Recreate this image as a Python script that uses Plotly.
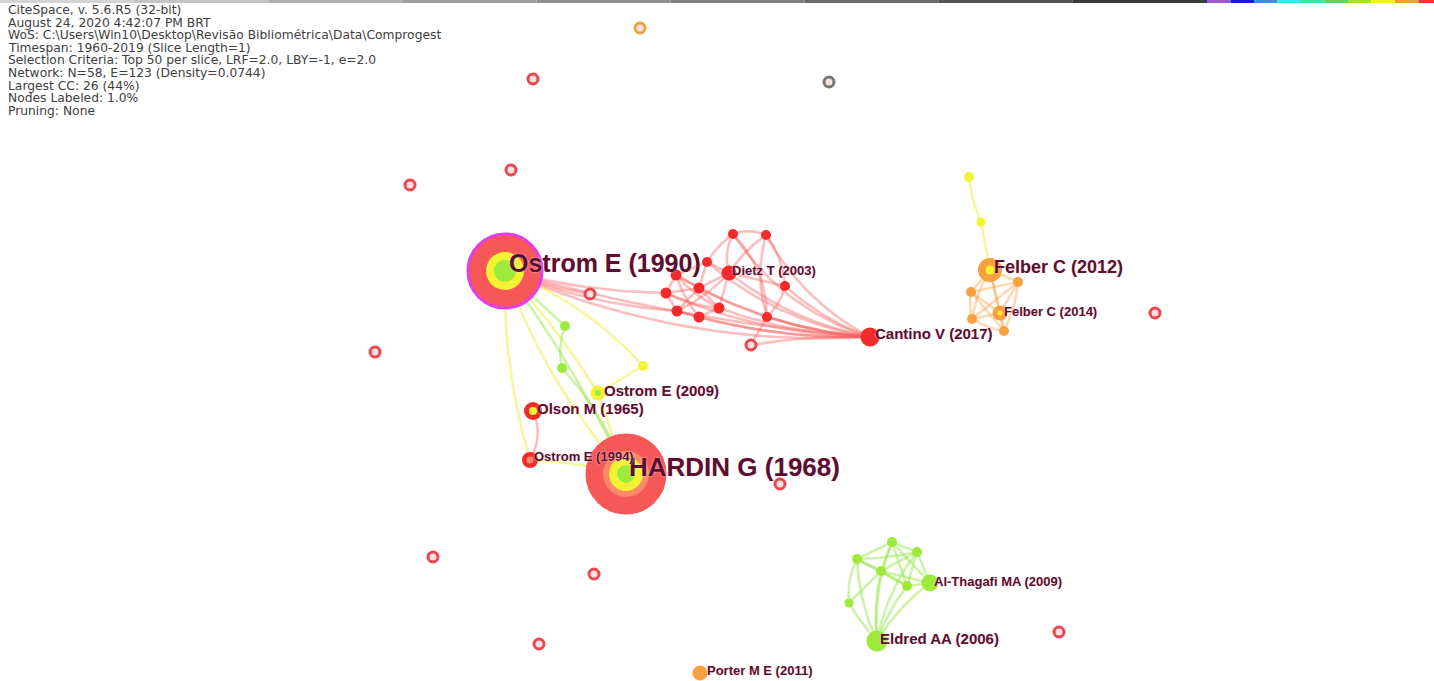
import plotly.graph_objects as go

# header block printed by CiteSpace
header_lines = [
    "CiteSpace, v. 5.6.R5 (32-bit)",
    "August 24, 2020 4:42:07 PM BRT",
    "WoS: C:\\Users\\Win10\\Desktop\\Revisão Bibliométrica\\Data\\Comprogest",
    "Timespan: 1960-2019 (Slice Length=1)",
    "Selection Criteria: Top 50 per slice, LRF=2.0, LBY=-1, e=2.0",
    "Network: N=58, E=123 (Density=0.0744)",
    "Largest CC: 26 (44%)",
    "Nodes Labeled: 1.0%",
    "Pruning: None",
]

# nodes: id, x, y (layout position), size, colour class
node_id = [
    "ostrom1990", "hardin1968", "olson1965", "ostrom1994", "ostrom2009",
    "g1", "g2", "y1",
    "c1", "c2", "c3", "c4", "dietz2003", "c5", "c6", "c7", "c8", "c9", "c10",
    "c11", "r_in1", "r_in2", "cantino2017",
    "felber2012", "f1", "f2", "f3", "felber2014", "f4", "fy1", "fy2",
    "e1", "e2", "e3", "e4", "e5", "althagafi2009", "e6", "eldred2006",
    "porter2011",
    "i1", "i2", "i3", "i4", "i5", "i6", "i7", "i8", "i9", "i10", "i11", "i12",
]
node_x = [
    505, 626, 533, 530, 598,
    565, 562, 643,
    733, 766, 707, 676, 729, 785, 666, 699, 677, 699, 719,
    767, 751, 590, 870,
    990, 1018, 971, 972, 1000, 1004, 969, 981,
    892, 917, 857, 881, 907, 930, 849, 877,
    700,
    640, 829, 533, 410, 511, 375, 780, 433, 594, 539, 1059, 1155,
]
node_y = [
    271, 474, 411, 460, 393,
    326, 368, 366,
    234, 235, 262, 275, 273, 286, 293, 288, 311, 317, 308,
    317, 345, 294, 337,
    270, 282, 292, 319, 313, 331, 177, 222,
    542, 552, 559, 571, 586, 583, 603, 641,
    673,
    28, 82, 79, 185, 170, 352, 484, 557, 574, 644, 632, 313,
]
node_size = [
    74, 78, 18, 16, 15,
    10, 10, 10,
    10, 10, 10, 11, 15, 10, 11, 11, 11, 11, 11,
    10, 10, 10, 19,
    24, 10, 10, 10, 15, 10, 10, 9,
    10, 10, 10, 10, 10, 17, 9, 21,
    15,
    10, 10, 10, 10, 10, 10, 10, 10, 10, 10, 10, 10,
]
node_class = [
    "red", "red", "red", "red", "yellow",
    "green", "green", "yellow",
    "red", "red", "red", "red", "red", "red", "red", "red", "red", "red", "red",
    "red", "ring_red", "ring_red", "red",
    "orange", "orange", "orange", "orange", "orange", "orange", "yellow", "yellow",
    "green", "green", "green", "green", "green", "green", "green", "green",
    "orange",
    "ring_orange", "ring_gray", "ring_red", "ring_red", "ring_red", "ring_red",
    "ring_red", "ring_red", "ring_red", "ring_red", "ring_red", "ring_red",
]

# inner citation rings for the large nodes: (node, class, size)
rings = [
    ("ostrom1990", "yellow", 38), ("ostrom1990", "green", 22),
    ("hardin1968", "salmon", 46), ("hardin1968", "yellow", 34), ("hardin1968", "green", 18),
    ("olson1965", "yellow", 8),
    ("ostrom1994", "salmon", 7),
    ("ostrom2009", "green", 6),
    ("felber2012", "yellow", 9),
    ("felber2014", "yellow", 5),
]

# labels: node, text, font size
labels = [
    ("ostrom1990", "Ostrom E (1990)", 25),
    ("hardin1968", "HARDIN G (1968)", 26),
    ("felber2012", "Felber C (2012)", 18),
    ("cantino2017", "Cantino V (2017)", 15),
    ("felber2014", "Felber C (2014)", 13),
    ("dietz2003", "Dietz T (2003)", 13),
    ("ostrom2009", "Ostrom E (2009)", 15),
    ("olson1965", "Olson M (1965)", 15),
    ("ostrom1994", "Ostrom E (1994)", 13),
    ("althagafi2009", "Al-Thagafi MA (2009)", 13),
    ("eldred2006", "Eldred AA (2006)", 15),
    ("porter2011", "Porter M E (2011)", 13),
]
label_shift = {
    "ostrom1990": (2, -8), "hardin1968": (1, -7), "felber2012": (2, -3),
    "cantino2017": (3, -4), "felber2014": (2, -2), "dietz2003": (1, -3),
    "ostrom2009": (4, -3), "olson1965": (2, -3), "ostrom1994": (2, -4),
    "althagafi2009": (2, -2), "eldred2006": (1, -3), "porter2011": (5, -3),
}

# links: (from, to, bend, class)
edges = [
    # red cluster -> Cantino fan
    ("c1", "cantino2017", 0.18, "red"), ("c2", "cantino2017", 0.15, "red"),
    ("c3", "cantino2017", 0.14, "red"), ("c4", "cantino2017", 0.12, "red"),
    ("dietz2003", "cantino2017", 0.12, "red"), ("c5", "cantino2017", 0.10, "red"),
    ("c6", "cantino2017", 0.10, "red"), ("c7", "cantino2017", 0.10, "red"),
    ("c8", "cantino2017", 0.08, "red"), ("c9", "cantino2017", 0.07, "red"),
    ("c10", "cantino2017", 0.08, "red"), ("c11", "cantino2017", 0.06, "red"),
    ("r_in1", "cantino2017", -0.05, "red"),
    ("ostrom1990", "cantino2017", 0.12, "red"), ("ostrom1990", "r_in2", 0.05, "red"),
    ("ostrom1990", "c6", 0.06, "red"), ("ostrom1990", "c8", 0.08, "red"),
    ("ostrom1990", "cantino2017", 0.05, "red"),
    # red cluster mesh
    ("c4", "c6", 0.0, "red"), ("c4", "c7", 0.0, "red"), ("c4", "c3", 0.0, "red"),
    ("c6", "c8", 0.0, "red"), ("c6", "c7", 0.0, "red"), ("c8", "c9", 0.0, "red"),
    ("c9", "c10", 0.0, "red"), ("c10", "dietz2003", 0.0, "red"), ("c7", "c10", 0.0, "red"),
    ("c7", "dietz2003", 0.0, "red"), ("c3", "dietz2003", 0.0, "red"), ("c4", "c10", 0.1, "red"),
    ("c6", "c10", 0.1, "red"), ("c8", "c7", 0.0, "red"), ("c3", "c7", 0.0, "red"),
    ("c4", "c9", 0.1, "red"), ("c8", "dietz2003", 0.1, "red"),
    ("c1", "c2", -0.2, "red"), ("c1", "dietz2003", 0.2, "red"), ("c1", "c3", 0.1, "red"),
    ("c2", "c5", -0.15, "red"), ("c5", "c11", -0.15, "red"), ("c2", "dietz2003", 0.1, "red"),
    ("c1", "c11", -0.2, "red"), ("c2", "c11", 0.15, "red"), ("dietz2003", "c5", 0.0, "red"),
    ("c11", "r_in1", 0.0, "red"),
    # Ostrom / Hardin links
    ("ostrom1990", "ostrom1994", 0.08, "yellow"), ("ostrom1990", "hardin1968", 0.10, "yellow"),
    ("ostrom1990", "hardin1968", -0.05, "green"), ("ostrom1990", "y1", -0.12, "yellow"),
    ("ostrom1990", "ostrom2009", -0.05, "yellow"), ("ostrom1990", "g1", 0.0, "green"),
    ("g1", "g2", 0.15, "green"), ("g2", "hardin1968", -0.1, "green"),
    ("y1", "ostrom2009", 0.0, "yellow"), ("ostrom2009", "hardin1968", 0.0, "yellow"),
    ("ostrom1994", "hardin1968", -0.05, "yellow"), ("olson1965", "ostrom1994", -0.25, "red"),
    # Felber cluster
    ("fy1", "fy2", 0.08, "yellow"), ("fy2", "felber2012", 0.0, "yellow"),
    ("felber2012", "f1", 0.0, "orange"), ("felber2012", "f2", 0.0, "orange"),
    ("felber2012", "f3", 0.1, "orange"), ("felber2012", "felber2014", 0.0, "orange"),
    ("felber2012", "f4", 0.0, "orange"), ("f1", "f2", 0.0, "orange"),
    ("f1", "f3", 0.0, "orange"), ("f1", "felber2014", 0.0, "orange"),
    ("f1", "f4", -0.1, "orange"), ("f2", "f3", 0.1, "orange"),
    ("f2", "felber2014", 0.0, "orange"), ("f2", "f4", 0.0, "orange"),
    ("f3", "felber2014", 0.0, "orange"), ("f3", "f4", 0.1, "orange"),
    ("felber2014", "f4", 0.0, "orange"),
    # green cluster
    ("e1", "e2", 0.0, "green"), ("e1", "e3", 0.0, "green"), ("e1", "e4", 0.0, "green"),
    ("e1", "e5", 0.0, "green"), ("e1", "althagafi2009", 0.0, "green"),
    ("e2", "e4", 0.0, "green"), ("e2", "e5", 0.0, "green"), ("e2", "althagafi2009", 0.0, "green"),
    ("e3", "e4", 0.0, "green"), ("e3", "e5", 0.0, "green"), ("e3", "e6", 0.15, "green"),
    ("e4", "e5", 0.0, "green"), ("e4", "althagafi2009", 0.0, "green"),
    ("e5", "althagafi2009", 0.0, "green"), ("e3", "e2", 0.05, "green"),
    ("e1", "eldred2006", 0.12, "green"), ("e2", "eldred2006", 0.12, "green"),
    ("e3", "eldred2006", 0.1, "green"), ("e4", "eldred2006", 0.08, "green"),
    ("e5", "eldred2006", 0.08, "green"), ("althagafi2009", "eldred2006", 0.1, "green"),
    ("e6", "eldred2006", 0.05, "green"), ("e6", "e4", 0.0, "green"),
]

# time-slice colour bar along the top edge
slice_colors = ["#9b5bd6", "#1c1ccf", "#3a8fe3", "#3fe3ea", "#3fe3a3",
                "#5fd35f", "#a3e330", "#f2f230", "#f2a233", "#f23333"]
gray_strip = ["#d4d4d4", "#c4c4c4", "#b0b0b0", "#a0a0a0", "#909090",
              "#7e7e7e", "#6a6a6a", "#555555", "#3a3a3a"]

fill = {"red": "#f42a2a", "orange": "#f7a03c", "yellow": "#f3f333",
        "green": "#9eea3a", "salmon": "#fb8a6a"}
big_fill = "#f65858"
edge_rgba = {"red": "rgba(245,95,95,0.40)", "orange": "rgba(247,160,70,0.40)",
             "yellow": "rgba(238,238,80,0.55)", "green": "rgba(150,230,75,0.48)"}
ring_line = {"ring_red": "#eb4650", "ring_orange": "#f2a040", "ring_gray": "#777777"}
label_color = "#5a0f30"

pos = {n: (x, y) for n, x, y in zip(node_id, node_x, node_y)}


def curve(a, b, bend, steps=24):
    (x0, y0), (x1, y1) = pos[a], pos[b]
    cx = (x0 + x1) / 2 - bend * (y1 - y0)
    cy = (y0 + y1) / 2 + bend * (x1 - x0)
    xs, ys = [], []
    for k in range(steps + 1):
        t = k / steps
        xs.append((1 - t) ** 2 * x0 + 2 * (1 - t) * t * cx + t ** 2 * x1)
        ys.append((1 - t) ** 2 * y0 + 2 * (1 - t) * t * cy + t ** 2 * y1)
    return xs, ys


fig = go.Figure()

for cls in ["red", "yellow", "green", "orange"]:
    ex, ey = [], []
    for a, b, bend, c in edges:
        if c != cls:
            continue
        xs, ys = curve(a, b, bend)
        ex += xs + [None]
        ey += ys + [None]
    fig.add_trace(go.Scatter(x=ex, y=ey, mode="lines", hoverinfo="skip",
                             line=dict(color=edge_rgba[cls], width=2.6)))

# solid nodes
for cls in ["red", "orange", "yellow", "green"]:
    idx = [i for i, c in enumerate(node_class) if c == cls]
    big = [i for i in idx if node_size[i] > 40]
    small = [i for i in idx if node_size[i] <= 40]
    if big:
        fig.add_trace(go.Scatter(
            x=[node_x[i] for i in big], y=[node_y[i] for i in big], mode="markers",
            hoverinfo="skip",
            marker=dict(size=[node_size[i] for i in big], color=big_fill, opacity=1,
                        line=dict(color=["#e33ee6" if node_id[i] == "ostrom1990" else big_fill
                                         for i in big], width=3))))
    fig.add_trace(go.Scatter(
        x=[node_x[i] for i in small], y=[node_y[i] for i in small], mode="markers",
        hoverinfo="skip",
        marker=dict(size=[node_size[i] for i in small], color=fill[cls], opacity=1,
                    line=dict(width=0))))

# rings inside large nodes
for n, cls, s in rings:
    fig.add_trace(go.Scatter(x=[pos[n][0]], y=[pos[n][1]], mode="markers", hoverinfo="skip",
                             marker=dict(size=s, color=fill[cls], opacity=1, line=dict(width=0))))

# hollow isolated nodes
for cls in ["ring_red", "ring_orange", "ring_gray"]:
    idx = [i for i, c in enumerate(node_class) if c == cls]
    fig.add_trace(go.Scatter(
        x=[node_x[i] for i in idx], y=[node_y[i] for i in idx], mode="markers",
        hoverinfo="skip",
        marker=dict(size=[node_size[i] for i in idx], color="#fbe0e0", opacity=1,
                    line=dict(color=ring_line[cls], width=3))))

for n, text, fs in labels:
    dx, dy = label_shift[n]
    fig.add_annotation(x=pos[n][0] + dx, y=pos[n][1] + dy, text=text, showarrow=False,
                       xanchor="left", yanchor="middle",
                       font=dict(family="Liberation Sans", size=fs, color=label_color,
                                 weight="bold", shadow="0px 0px 2px #ffd6e0"))

for i, line in enumerate(header_lines):
    fig.add_annotation(x=7, y=10 + 12.6 * i, text=line, showarrow=False,
                       xanchor="left", yanchor="middle", borderpad=0,
                       font=dict(family="DejaVu Sans", size=12.3, color="#404040"))

shapes = []
gw = 1207 / len(gray_strip)
for i, c in enumerate(gray_strip):
    shapes.append(dict(type="rect", x0=i * gw, x1=(i + 1) * gw, y0=0, y1=3,
                       fillcolor=c, line=dict(width=0), layer="above"))
for i, c in enumerate(slice_colors):
    shapes.append(dict(type="rect", x0=1207 + i * 23.5, x1=1207 + (i + 1) * 23.5, y0=0, y1=3,
                       fillcolor=c, line=dict(width=0), layer="above"))

fig.update_layout(
    width=1434, height=681, margin=dict(l=0, r=0, t=0, b=0),
    paper_bgcolor="white", plot_bgcolor="white", showlegend=False,
    xaxis=dict(range=[0, 1434], visible=False, fixedrange=True),
    yaxis=dict(range=[681, 0], visible=False, fixedrange=True),
    shapes=shapes,
)

fig.write_html("out.html", config={"displayModeBar": False},
               post_script="document.body.style.margin='0';")
